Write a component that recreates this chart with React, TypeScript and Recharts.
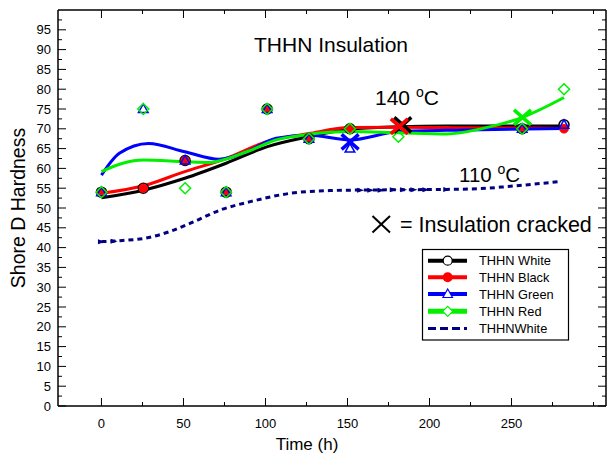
import React from 'react';
import { ComposedChart, Line, Scatter, XAxis, YAxis } from 'recharts';

const FONT = '"Liberation Sans", Arial, Helvetica, sans-serif';

// axis ticks
const xAllTicks = [0, 25, 50, 75, 100, 125, 150, 175, 200, 225, 250, 275, 300];
const xLabelTicks = [0, 50, 100, 150, 200, 250];
const yAllTicks = [
  0, 2.5, 5, 7.5, 10, 12.5, 15, 17.5, 20, 22.5, 25, 27.5, 30, 32.5, 35, 37.5, 40, 42.5, 45, 47.5,
  50, 52.5, 55, 57.5, 60, 62.5, 65, 67.5, 70, 72.5, 75, 77.5, 80, 82.5, 85, 87.5, 90, 92.5, 95, 97.5,
];
const yMajorTicks = [0, 5, 10, 15, 20, 25, 30, 35, 40, 45, 50, 55, 60, 65, 70, 75, 80, 85, 90, 95];

// measured hardness (140 C)
const sampleHours = [0, 25.5, 51, 76, 101, 126.5, 151.5, 181, 256.5, 282];
const whiteMarks = [54, 55, 62, 54, 75, 67.5, 70, null, 70, 71];
const blackMarks = [54, 55, 62, 54, 75, 67.5, 70, null, 70, 70];
const greenMarks = [54, 75, 62, 54, 75, 67.5, 65, null, 70, 71];
const redMarks = [54, 75, 55, 54, 75, 67.5, 70, 68, 70, 80];

// fitted curves (140 C)
const whiteFitHours = [0, 25.6, 50.8, 76, 101.2, 126.4, 151.6, 181, 210.5, 256.7, 282];
const whiteFit = [52.6, 54.5, 57.5, 61.3, 65.5, 68.0, 69.9, 70.5, 70.7, 70.7, 70.7];
const blackFitHours = [0, 25.6, 50.8, 76, 101.2, 126.4, 151.6, 181, 210.5, 256.7, 282];
const blackFit = [53.7, 55.6, 59.2, 62.5, 66.8, 68.8, 70.3, 70.4, 70.3, 70.2, 70.1];
const greenFitHours = [0, 10.9, 28.7, 50.8, 71.8, 88.6, 106.5, 126.4, 151.6, 181, 222, 282];
const greenFit = [58.3, 63.8, 66.3, 64.2, 62.3, 64.2, 67.6, 68.4, 67.2, 69.3, 69.7, 70.1];
const redFitHours = [0, 13, 25.6, 50.8, 65.5, 88.6, 106.5, 126.4, 151.6, 181, 210.5, 232.5, 256.7, 282];
const redFit = [59.2, 61.3, 62.1, 61.7, 61.5, 64.2, 67.2, 68.6, 69.3, 69.0, 68.7, 70.1, 72.9, 77.9];

// 110 C, THHN White
const white110Hours = [0, 13, 25.6, 41.3, 53.9, 73.9, 90.7, 114.9, 139, 151.6, 179, 210.5, 231.5, 247.2, 263, 279.8];
const white110 = [41.5, 41.8, 42.3, 44.0, 46.1, 49.7, 51.6, 53.7, 54.4, 54.5, 54.6, 54.7, 54.9, 55.4, 56.0, 56.7];
const white110MarkHours = [0, 7.7, 158, 164.2, 170.5, 177.9, 184.2, 190.5, 197.8, 210.5];
const white110Marks = [41.5, 41.6, 54.5, 54.5, 54.5, 54.6, 54.6, 54.6, 54.6, 54.7];

// insulation cracked
const crackWhiteHours = [183.7];
const crackWhite = [71.0];
const crackBlackHours = [181.6];
const crackBlack = [70.6];
const crackGreenHours = [151.6];
const crackGreen = [66.7];
const crackRedHours = [256.7];
const crackRed = [72.9];

const legendLabels = ['THHN White', 'THHN Black', 'THHN Green', 'THHN Red', 'THHNWhite'];

const toPoints = (xs: number[], ys: (number | null)[]) =>
  xs.map((x, i) => ({ x, y: ys[i] })).filter((p) => p.y !== null);

const BottomTick = ({ x, y, payload }: any) => {
  const major = payload.value % 50 === 0;
  return (
    <g>
      <line x1={x} x2={x} y1={y} y2={y - (major && payload.value < 300 ? 8 : 4)} stroke="#000" strokeWidth={1} />
      {xLabelTicks.includes(payload.value) && (
        <text x={x} y={y + 22} textAnchor="middle" fontSize={13} fontFamily={FONT} fill="#000">
          {payload.value}
        </text>
      )}
    </g>
  );
};

const TopTick = ({ x, y, payload }: any) => {
  const major = payload.value % 50 === 0 && payload.value < 300;
  return <line x1={x} x2={x} y1={y} y2={y + (major ? 8 : 4)} stroke="#000" strokeWidth={1} />;
};

const LeftTick = ({ x, y, payload }: any) => {
  const major = yMajorTicks.includes(payload.value);
  return (
    <g>
      <line x1={x} x2={x + (major ? 8 : 4)} y1={y} y2={y} stroke="#000" strokeWidth={1} />
      {major && (
        <text x={x - 7} y={y + 4.5} textAnchor="end" fontSize={13} fontFamily={FONT} fill="#000">
          {payload.value}
        </text>
      )}
    </g>
  );
};

const RightTick = ({ x, y, payload }: any) => {
  const major = yMajorTicks.includes(payload.value);
  return <line x1={x} x2={x - (major ? 8 : 4)} y1={y} y2={y} stroke="#000" strokeWidth={1} />;
};

const openCircle = (p: any) => (
  <circle cx={p.cx} cy={p.cy} r={5} fill="#fff" stroke="#000" strokeWidth={1.5} />
);
const redDot = (p: any) => <circle cx={p.cx} cy={p.cy} r={4.3} fill="#ff0000" stroke="#ff0000" />;
const blueTriangle = (p: any) => (
  <path
    d={`M${p.cx},${p.cy - 5}L${p.cx + 4.8},${p.cy + 3.5}L${p.cx - 4.8},${p.cy + 3.5}Z`}
    fill="none"
    stroke="#0000ff"
    strokeWidth={1.5}
  />
);
const greenDiamond = (p: any) => (
  <path
    d={`M${p.cx},${p.cy - 5.5}L${p.cx + 5.5},${p.cy}L${p.cx},${p.cy + 5.5}L${p.cx - 5.5},${p.cy}Z`}
    fill="none"
    stroke="#00f000"
    strokeWidth={1.5}
  />
);
const navyArrow = (p: any) => (
  <path d={`M${p.cx - 3.5},${p.cy - 2.5}L${p.cx + 3.5},${p.cy}L${p.cx - 3.5},${p.cy + 2.5}Z`} fill="#000080" />
);
const crossShape = (color: string) => (p: any) => (
  <g stroke={color} strokeWidth={3.5} strokeLinecap="butt">
    <line x1={p.cx - 8.5} y1={p.cy - 7.5} x2={p.cx + 8.5} y2={p.cy + 7.5} />
    <line x1={p.cx - 8.5} y1={p.cy + 7.5} x2={p.cx + 8.5} y2={p.cy - 7.5} />
  </g>
);

const legendRowsY = [260.7, 277.3, 294, 311.3, 328.5];
const X_DOMAIN = [-26.5, 307.6];

export default function App() {
  return (
    <div style={{ position: 'absolute', left: 0, top: 0, width: 608, height: 457, background: '#fff' }}>
      <ComposedChart width={608} height={457} margin={{ top: 0, right: 0, bottom: 0, left: 0 }}>
        <XAxis
          xAxisId="bottom"
          dataKey="x"
          type="number"
          orientation="bottom"
          domain={X_DOMAIN}
          ticks={xAllTicks}
          interval={0}
          height={51}
          tickSize={0}
          tickMargin={0}
          tickLine={false}
          tick={<BottomTick />}
          axisLine={{ stroke: '#000', strokeWidth: 1.5 }}
          allowDataOverflow
        />
        <XAxis
          xAxisId="top"
          dataKey="x"
          type="number"
          orientation="top"
          domain={X_DOMAIN}
          ticks={xAllTicks}
          interval={0}
          height={10}
          tickSize={0}
          tickMargin={0}
          tickLine={false}
          tick={<TopTick />}
          axisLine={{ stroke: '#000', strokeWidth: 1.5 }}
          allowDataOverflow
        />
        <YAxis
          yAxisId="left"
          dataKey="y"
          type="number"
          orientation="left"
          domain={[0, 100]}
          ticks={yAllTicks}
          interval={0}
          width={58}
          tickSize={0}
          tickMargin={0}
          tickLine={false}
          tick={<LeftTick />}
          axisLine={{ stroke: '#000', strokeWidth: 1.5 }}
          allowDataOverflow
        />
        <YAxis
          yAxisId="right"
          dataKey="y"
          type="number"
          orientation="right"
          domain={[0, 100]}
          ticks={yAllTicks}
          interval={0}
          width={2}
          tickSize={0}
          tickMargin={0}
          tickLine={false}
          tick={<RightTick />}
          axisLine={{ stroke: '#000', strokeWidth: 1.5 }}
          allowDataOverflow
        />

        <Line
          xAxisId="top"
          yAxisId="right"
          data={toPoints(white110Hours, white110)}
          dataKey="y"
          stroke="none"
          dot={false}
          activeDot={false}
          isAnimationActive={false}
        />
        <Line
          xAxisId="bottom"
          yAxisId="left"
          data={toPoints(white110Hours, white110)}
          dataKey="y"
          type="monotone"
          stroke="#000080"
          strokeWidth={3}
          strokeDasharray="5 4"
          dot={false}
          activeDot={false}
          isAnimationActive={false}
        />
        <Line
          xAxisId="bottom"
          yAxisId="left"
          data={toPoints(whiteFitHours, whiteFit)}
          dataKey="y"
          type="monotone"
          stroke="#000"
          strokeWidth={3}
          dot={false}
          activeDot={false}
          isAnimationActive={false}
        />
        <Line
          xAxisId="bottom"
          yAxisId="left"
          data={toPoints(blackFitHours, blackFit)}
          dataKey="y"
          type="monotone"
          stroke="#ff0000"
          strokeWidth={3}
          dot={false}
          activeDot={false}
          isAnimationActive={false}
        />
        <Line
          xAxisId="bottom"
          yAxisId="left"
          data={toPoints(greenFitHours, greenFit)}
          dataKey="y"
          type="monotone"
          stroke="#0000ff"
          strokeWidth={3}
          dot={false}
          activeDot={false}
          isAnimationActive={false}
        />
        <Line
          xAxisId="bottom"
          yAxisId="left"
          data={toPoints(redFitHours, redFit)}
          dataKey="y"
          type="monotone"
          stroke="#00f000"
          strokeWidth={3}
          dot={false}
          activeDot={false}
          isAnimationActive={false}
        />

        <Scatter xAxisId="bottom" yAxisId="left" data={toPoints(sampleHours, whiteMarks)} shape={openCircle} isAnimationActive={false} />
        <Scatter xAxisId="bottom" yAxisId="left" data={toPoints(sampleHours, blackMarks)} shape={redDot} isAnimationActive={false} />
        <Scatter xAxisId="bottom" yAxisId="left" data={toPoints(sampleHours, greenMarks)} shape={blueTriangle} isAnimationActive={false} />
        <Scatter xAxisId="bottom" yAxisId="left" data={toPoints(sampleHours, redMarks)} shape={greenDiamond} isAnimationActive={false} />
        <Scatter xAxisId="bottom" yAxisId="left" data={toPoints(white110MarkHours, white110Marks)} shape={navyArrow} isAnimationActive={false} />

        <Scatter xAxisId="bottom" yAxisId="left" data={toPoints(crackWhiteHours, crackWhite)} shape={crossShape('#000')} isAnimationActive={false} />
        <Scatter xAxisId="bottom" yAxisId="left" data={toPoints(crackBlackHours, crackBlack)} shape={crossShape('#ff0000')} isAnimationActive={false} />
        <Scatter xAxisId="bottom" yAxisId="left" data={toPoints(crackGreenHours, crackGreen)} shape={crossShape('#0000ff')} isAnimationActive={false} />
        <Scatter xAxisId="bottom" yAxisId="left" data={toPoints(crackRedHours, crackRed)} shape={crossShape('#00f000')} isAnimationActive={false} />
      </ComposedChart>

      <svg
        width={608}
        height={457}
        style={{ position: 'absolute', left: 0, top: 0, pointerEvents: 'none' }}
        fontFamily={FONT}
      >
        <text x={331} y={52} textAnchor="middle" fontSize={21} fill="#000">THHN Insulation</text>
        <text x={375} y={105} fontSize={21} fill="#000">
          140 <tspan dy={-8} fontSize={14}>o</tspan>
          <tspan dy={8}>C</tspan>
        </text>
        <text x={459} y={182} fontSize={20.5} fill="#000">
          110 <tspan dy={-8} fontSize={14}>o</tspan>
          <tspan dy={8}>C</tspan>
        </text>
        <g stroke="#000" strokeWidth={2}>
          <line x1={372.5} y1={216} x2={390} y2={232.5} />
          <line x1={372.5} y1={232.5} x2={390} y2={216} />
        </g>
        <text x={400} y={232} fontSize={21.5} fill="#000">= Insulation cracked</text>

        <text
          transform="translate(25,208) rotate(-90)"
          textAnchor="middle"
          fontSize={19.5}
          fill="#000"
        >
          Shore D Hardness
        </text>
        <text x={307} y={450} textAnchor="middle" fontSize={17} fill="#000">Time (h)</text>

        <rect x={422.5} y={249.5} width={146} height={90.5} fill="#fff" stroke="#000" strokeWidth={1.2} />
        <line x1={428} x2={467} y1={legendRowsY[0]} y2={legendRowsY[0]} stroke="#000" strokeWidth={4} />
        <circle cx={447.7} cy={legendRowsY[0]} r={4.5} fill="#fff" stroke="#000" strokeWidth={1.2} />
        <line x1={428} x2={467} y1={legendRowsY[1]} y2={legendRowsY[1]} stroke="#ff0000" strokeWidth={4} />
        <circle cx={447.7} cy={legendRowsY[1]} r={5} fill="#ff0000" />
        <line x1={428} x2={467} y1={legendRowsY[2]} y2={legendRowsY[2]} stroke="#0000ff" strokeWidth={4} />
        <path
          d={`M447.7,${legendRowsY[2] - 5}L452.5,${legendRowsY[2] + 3.5}L442.9,${legendRowsY[2] + 3.5}Z`}
          fill="#fff"
          stroke="#0000ff"
          strokeWidth={1.2}
        />
        <line x1={428} x2={467} y1={legendRowsY[3]} y2={legendRowsY[3]} stroke="#00f000" strokeWidth={5} />
        <path
          d={`M447.7,${legendRowsY[3] - 5}L452.7,${legendRowsY[3]}L447.7,${legendRowsY[3] + 5}L442.7,${legendRowsY[3]}Z`}
          fill="#fff"
          stroke="#00f000"
          strokeWidth={1.2}
        />
        <line
          x1={428}
          x2={467}
          y1={legendRowsY[4]}
          y2={legendRowsY[4]}
          stroke="#000080"
          strokeWidth={3}
          strokeDasharray="8 4"
        />
        {legendLabels.map((label, i) => (
          <text key={label} x={479} y={legendRowsY[i] + 4.5} fontSize={12.8} fill="#000">
            {label}
          </text>
        ))}
      </svg>
    </div>
  );
}
